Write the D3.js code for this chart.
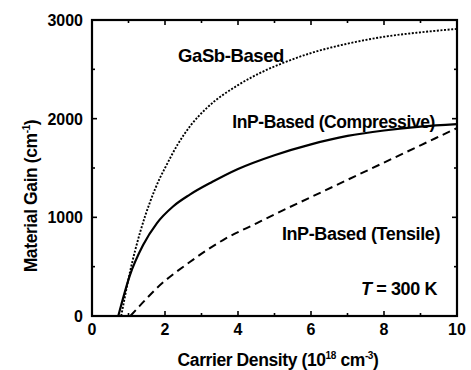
<!DOCTYPE html>
<html>
<head>
<meta charset="utf-8">
<script src="https://cdn.jsdelivr.net/npm/d3@7/dist/d3.min.js"></script>
<style>
  body { margin: 0; background: #fff; }
  svg text { font-family: "Liberation Sans", Arial, sans-serif; fill: #000; font-weight: bold; }
</style>
</head>
<body>
<div id="chart"></div>
<script>
// carrier density (1e18 cm^-3) vs material gain (cm^-1)
const gasbX = [0.8, 1.04, 1.32, 1.59, 1.86, 2.0, 2.35, 2.7, 3.15, 4.0, 4.7, 5.2, 6.0, 7.0, 8.0, 9.0, 10];
const gasbY = [0, 445, 851, 1155, 1398, 1500, 1740, 1930, 2110, 2340, 2480, 2560, 2665, 2760, 2830, 2875, 2910];

const compX = [0.72, 1.04, 1.4, 1.78, 2.22, 2.68, 3.3, 4.0, 5.0, 6.0, 7.0, 8.0, 9.0, 10];
const compY = [0, 415, 719, 942, 1110, 1230, 1360, 1490, 1630, 1740, 1825, 1880, 1920, 1945];

const tensX = [1.05, 1.3, 1.78, 2.68, 3.59, 4.52, 5.0, 6.0, 7.0, 8.0, 9.0, 10];
const tensY = [0, 100, 284, 547, 770, 942, 1030, 1205, 1380, 1555, 1730, 1905];

const xTicks = [0, 2, 4, 6, 8, 10];
const xMinor = [1, 3, 5, 7, 9];
const yTicks = [0, 1000, 2000, 3000];
const yMinor = [500, 1500, 2500];

const width = 471, height = 370;
const margin = {top: 20, right: 14, bottom: 54, left: 92};

const svg = d3.select('#chart').append('svg')
  .attr('width', width).attr('height', height);

const x = d3.scaleLinear().domain([0, 10]).range([margin.left, width - margin.right]);
const y = d3.scaleLinear().domain([0, 3000]).range([height - margin.bottom, margin.top]);

const [x0, x1] = x.range();
const [yb, yt] = y.range();

// ticks (inside, on all four sides)
const tk = svg.append('g').attr('stroke', '#000').attr('stroke-width', 1.6);
xTicks.concat(xMinor).forEach(v => {
  const len = xMinor.includes(v) ? 3 : 5;
  tk.append('line').attr('x1', x(v)).attr('x2', x(v)).attr('y1', yb).attr('y2', yb - len);
  tk.append('line').attr('x1', x(v)).attr('x2', x(v)).attr('y1', yt).attr('y2', yt + len);
});
yTicks.concat(yMinor).forEach(v => {
  const len = yMinor.includes(v) ? 3 : 5;
  tk.append('line').attr('y1', y(v)).attr('y2', y(v)).attr('x1', x0).attr('x2', x0 + len);
  tk.append('line').attr('y1', y(v)).attr('y2', y(v)).attr('x1', x1).attr('x2', x1 - len);
});

// curves
const line = d3.line().x(d => x(d[0])).y(d => y(d[1])).curve(d3.curveMonotoneX);
const series = [
  {xs: gasbX, ys: gasbY, dash: '2,1.6', w: 1.9},
  {xs: compX, ys: compY, dash: null, w: 2.2},
  {xs: tensX, ys: tensY, dash: '8,5', w: 2}
];
series.forEach(s => {
  svg.append('path')
    .datum(s.xs.map((v, i) => [v, s.ys[i]]))
    .attr('d', line)
    .attr('fill', 'none')
    .attr('stroke', '#000')
    .attr('stroke-width', s.w)
    .attr('stroke-dasharray', s.dash);
});

// frame
svg.append('rect')
  .attr('x', x0).attr('y', yt)
  .attr('width', x1 - x0).attr('height', yb - yt)
  .attr('fill', 'none').attr('stroke', '#000').attr('stroke-width', 2.2);

// tick labels
svg.append('g').selectAll('text').data(xTicks).enter().append('text')
  .attr('x', d => x(d)).attr('y', yb + 19)
  .attr('text-anchor', 'middle')
  .style('font-size', '16px')
  .text(d => d);

svg.append('g').selectAll('text').data(yTicks).enter().append('text')
  .attr('x', x0 - 9).attr('y', d => y(d) + 6)
  .attr('text-anchor', 'end')
  .style('font-size', '16px')
  .text(d => d);

// axis titles
const xt = svg.append('text')
  .attr('x', 278).attr('y', 366)
  .attr('text-anchor', 'middle')
  .style('font-size', '17.5px').style('letter-spacing', '-0.4px');
xt.append('tspan').text('Carrier Density (10');
xt.append('tspan').attr('dy', -7).style('font-size', '10px').text('18');
xt.append('tspan').attr('dy', 7).text(' cm');
xt.append('tspan').attr('dy', -7).style('font-size', '10px').text('-3');
xt.append('tspan').attr('dy', 7).text(')');

const yl = svg.append('text')
  .attr('transform', 'translate(37,196) rotate(-90)')
  .attr('text-anchor', 'middle')
  .style('font-size', '17.5px').style('letter-spacing', '-0.4px');
yl.append('tspan').text('Material Gain (cm');
yl.append('tspan').attr('dy', -7).style('font-size', '10px').text('-1');
yl.append('tspan').attr('dy', 7).text(')');

// curve labels
const lab = (txt, px, py, anchor, fs) => svg.append('text')
  .attr('x', px).attr('y', py).attr('text-anchor', anchor)
  .style('font-size', fs + 'px').style('letter-spacing', '-0.4px')
  .text(txt);
lab('GaSb-Based', 178, 62, 'start', 18.5);
lab('InP-Based (Compressive)', 435, 128, 'end', 17.5);
lab('InP-Based (Tensile)', 440, 240, 'end', 18);

const tl = svg.append('text')
  .attr('x', 437).attr('y', 295).attr('text-anchor', 'end')
  .style('font-size', '18px').style('letter-spacing', '-0.4px');
tl.append('tspan').style('font-style', 'italic').text('T');
tl.append('tspan').text(' = 300 K');
</script>
</body>
</html>
